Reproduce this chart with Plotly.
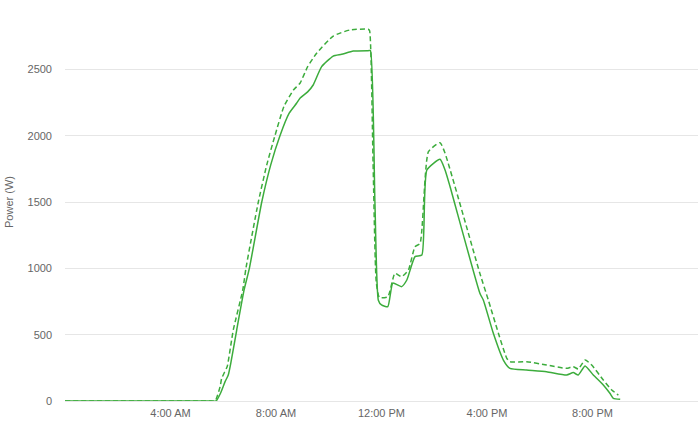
import plotly.graph_objects as go

# time of day in hours, solid series (actual power)
solid_t = [0, 1, 2, 3, 4, 5, 5.5, 5.73, 5.9, 6.07, 6.19, 6.3, 6.51, 6.79, 6.99, 7.46,
           7.8, 8.15, 8.5, 8.78, 8.91, 9.2, 9.41, 9.73, 10.17, 10.49, 10.93, 11.5, 11.58,
           11.75, 11.88, 12.0, 12.24, 12.43, 12.76, 12.96, 13.27, 13.53, 13.72, 14.22,
           14.41, 14.6, 15.73, 15.86, 16.24, 16.62, 16.87, 17.5, 18.26, 19.02, 19.27,
           19.46, 19.72, 20.03, 20.41, 20.66, 20.79, 21.05]
solid_v = [0, 0, 0, 0, 0, 0, 0, 0, 60, 146, 196, 300, 535, 837, 1000, 1500,
           1780, 2000, 2170, 2244, 2282, 2330, 2382, 2520, 2600, 2613, 2638, 2641, 2641,
           1500, 760, 724, 711, 889, 862, 912, 1088, 1100, 1741, 1822,
           1741, 1615, 812, 761, 510, 309, 246, 234, 221, 196, 214,
           196, 264, 196, 121, 58, 20, 13]

# dashed series (expected power)
dash_t = [0, 1, 2, 3, 4, 5, 5.45, 5.69, 5.88, 5.94, 6.03, 6.15, 6.38, 6.74, 6.86, 7.33,
          7.65, 7.96, 8.3, 8.66, 8.91, 9.2, 9.54, 10.17, 10.81, 11.5, 11.55, 11.68, 11.8,
          11.92, 12.24, 12.51, 12.76, 13.02, 13.27, 13.46, 13.78, 14.22, 14.41, 15.73,
          16.05, 16.43, 16.75, 16.87, 17.5, 18.26, 19.02, 19.27, 19.46, 19.72, 19.97,
          20.41, 20.73, 20.98]
dash_v = [0, 0, 0, 0, 0, 0, 0, 0, 108, 171, 209, 260, 535, 837, 1000, 1500,
          1780, 2000, 2220, 2344, 2395, 2520, 2621, 2751, 2797, 2802, 2790, 1800, 900,
          780, 786, 962, 937, 987, 1163, 1188, 1879, 1947, 1867, 962,
          761, 512, 322, 296, 296, 271, 246, 259, 241, 309, 271,
          158, 83, 45]

tick_hours = [4, 8, 12, 16, 20]
tick_labels = ["4:00 AM", "8:00 AM", "12:00 PM", "4:00 PM", "8:00 PM"]
y_ticks = [0, 500, 1000, 1500, 2000, 2500, 3000]
y_labels = ["0", "500", "1000", "1500", "2000", "2500", ""]

green = "#3cac3c"
grey = "#666666"
fig = go.Figure()
fig.add_trace(go.Scatter(x=dash_t, y=dash_v, mode="lines",
                         line=dict(color=green, width=1.5, dash="5px,3px",
                                   shape="spline", smoothing=0.5),
                         showlegend=False))
fig.add_trace(go.Scatter(x=solid_t, y=solid_v, mode="lines",
                         line=dict(color=green, width=1.5,
                                   shape="spline", smoothing=0.5),
                         showlegend=False))

fig.update_layout(
    width=700, height=425,
    margin=dict(l=65, r=2, t=3, b=24),
    paper_bgcolor="white", plot_bgcolor="white",
    font=dict(family="Liberation Sans, Arial, sans-serif", size=11, color=grey),
    xaxis=dict(range=[0, 24], tickvals=tick_hours, ticktext=tick_labels,
               showgrid=False, zeroline=False, showline=True, linecolor="#e6e6e6",
               linewidth=1, ticks="", tickfont=dict(size=11, color=grey),
               automargin=False, ticklabelstandoff=2),
    yaxis=dict(range=[0, 3000], tickvals=y_ticks, ticktext=y_labels,
               showgrid=True, gridcolor="#e6e6e6", gridwidth=1, zeroline=False,
               showline=False, ticks="", ticklabelstandoff=12, automargin=False,
               tickfont=dict(size=11, color=grey)),
    annotations=[dict(text="Power (W)", xref="paper", yref="paper",
                      x=(9 - 65) / 633, y=0.5, xanchor="center", yanchor="middle",
                      textangle=-90, showarrow=False,
                      font=dict(size=11, color=grey))],
)

fig.write_html("out.html", config={"displayModeBar": False},
               post_script="document.body.style.margin='0';document.body.style.padding='0';")
